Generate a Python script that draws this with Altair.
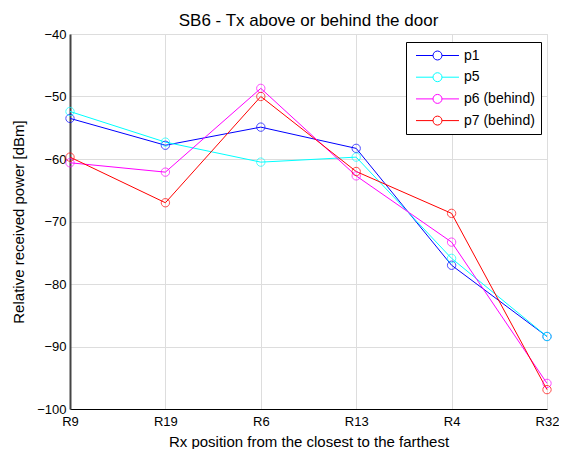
import altair as alt
import pandas as pd

categories = ["R9", "R19", "R6", "R13", "R4", "R32"]
series_names = ["p1", "p5", "p6 (behind)", "p7 (behind)"]
p1 = [-53.5, -57.8, -54.9, -58.3, -77.0, -88.4]
p5 = [-52.4, -57.3, -60.5, -59.7, -75.9, -88.4]
p6 = [-60.6, -62.1, -48.7, -62.7, -73.3, -95.9]
p7 = [-59.7, -67.0, -50.0, -62.0, -68.7, -96.9]
colors = ["#0000FF", "#00FFFF", "#FF00FF", "#FF0000"]

rows = []
for name, vals in zip(series_names, [p1, p5, p6, p7]):
    for c, v in zip(categories, vals):
        rows.append({"rx": c, "power": v, "series": name})
df = pd.DataFrame(rows)

font = "Liberation Sans"
legend_symbol = ("M-3.07,0L-0.64,0 M0.64,0L3.07,0 "
                 "M0.64,0A0.64,0.64 0 1 1 -0.64,0A0.64,0.64 0 1 1 0.64,0")

x = alt.X("rx:N", sort=categories,
          scale=alt.Scale(type="point", padding=0),
          axis=alt.Axis(title="Rx position from the closest to the farthest",
                        labelAngle=0, labelFontSize=13, titleFontSize=15,
                        labelPadding=6, titlePadding=6, ticks=False,
                        labelFont=font, titleFont=font, titleFontWeight="normal",
                        labelColor="#000", titleColor="#000",
                        domainColor="#000", grid=True))
y = alt.Y("power:Q",
          scale=alt.Scale(domain=[-100, -40], nice=False, zero=False),
          axis=alt.Axis(title="Relative received power [dBm]", values=list(range(-100, -39, 10)),
                        labelFontSize=13, titleFontSize=15, labelPadding=4,
                        titlePadding=10, ticks=False,
                        labelFont=font, titleFont=font, titleFontWeight="normal",
                        labelColor="#000", titleColor="#000",
                        domainColor="#444", domainWidth=2, grid=True))
color = alt.Color("series:N", sort=series_names,
                  scale=alt.Scale(domain=series_names, range=colors),
                  legend=alt.Legend(title=None, orient="none", legendX=336, legendY=8,
                                    symbolType=legend_symbol, symbolSize=196,
                                    symbolStrokeWidth=1, symbolFillColor="transparent",
                                    symbolOffset=18,
                                    labelFontSize=14, labelFont=font, labelColor="#000",
                                    rowPadding=6.7, padding=6,
                                    strokeColor="#000", fillColor="#fff",
                                    labelOffset=19))

lines = alt.Chart(df).mark_line(strokeWidth=1).encode(x=x, y=y, color=color, detail="series:N")
points = alt.Chart(df).mark_point(shape="circle", filled=False, size=70, strokeWidth=1).encode(
    x=x, y=y, color=alt.Color("series:N", sort=series_names,
                              scale=alt.Scale(domain=series_names, range=colors), legend=None))

chart = (lines + points).properties(
    width=477, height=375,
    title=alt.TitleParams("SB6 - Tx above or behind the door", fontSize=17, font=font,
                          fontWeight="normal", color="#000", offset=0, dy=2),
    autosize=alt.AutoSizeParams(type="none"),
    padding={"left": 62, "top": 26, "right": 12, "bottom": 40},
).configure_view(stroke="#000", strokeWidth=1).configure_axis(
    gridColor="#333", gridDash=[1, 2], gridWidth=1, gridOpacity=1
).configure(background="#fff")

chart.save("out.html", embed_options={"renderer": "svg", "actions": False})
